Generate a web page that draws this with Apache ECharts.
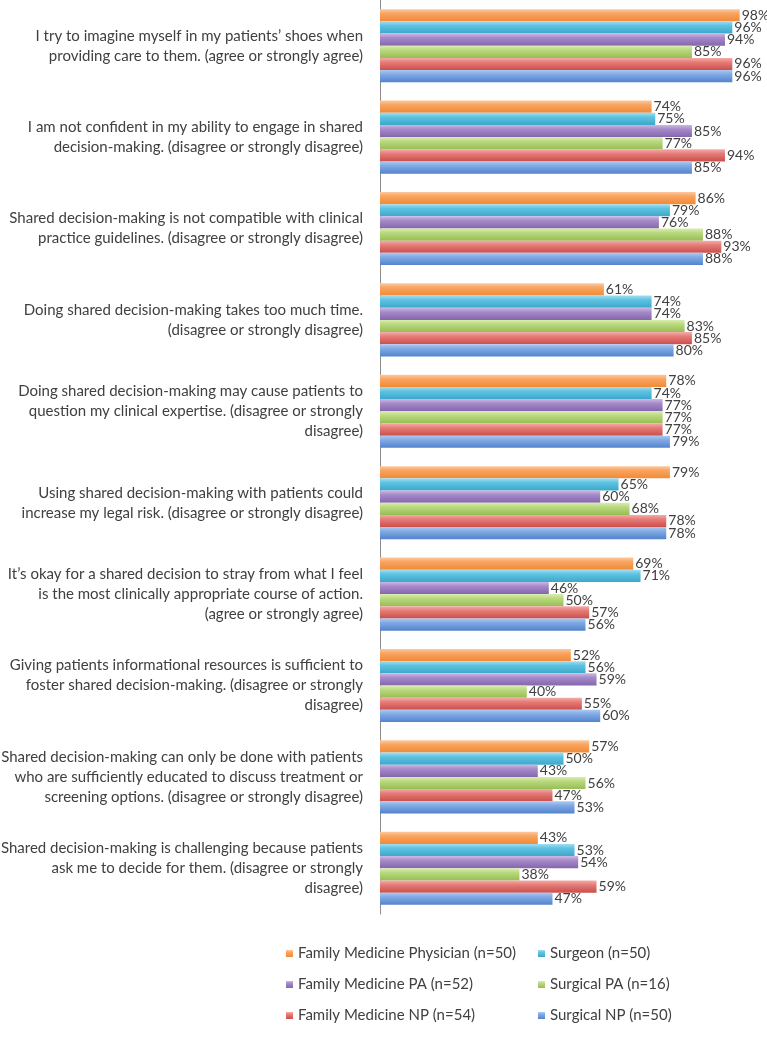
<!DOCTYPE html>
<html><head><meta charset="utf-8">
<script src="https://cdn.jsdelivr.net/npm/echarts@6/dist/echarts.min.js"></script>
<style>html,body{margin:0;padding:0;background:#fff}#c{width:767px;height:1037px}</style>
</head><body><div id="c"></div>
<script>
const categories = [
  "I try to imagine myself in my patients’ shoes when\nproviding care to them. (agree or strongly agree)",
  "I am not confident in my ability to engage in shared\ndecision-making. (disagree or strongly disagree)",
  "Shared decision-making is not compatible with clinical\npractice guidelines. (disagree or strongly disagree)",
  "Doing shared decision-making takes too much time.\n(disagree or strongly disagree)",
  "Doing shared decision-making may cause patients to\nquestion my clinical expertise. (disagree or strongly\ndisagree)",
  "Using shared decision-making with patients could\nincrease my legal risk. (disagree or strongly disagree)",
  "It’s okay for a shared decision to stray from what I feel\nis the most clinically appropriate course of action.\n(agree or strongly agree)",
  "Giving patients informational resources is sufficient to\nfoster shared decision-making. (disagree or strongly\ndisagree)",
  "Shared decision-making can only be done with patients\nwho are sufficiently educated to discuss treatment or\nscreening options. (disagree or strongly disagree)",
  "Shared decision-making is challenging because patients\nask me to decide for them. (disagree or strongly\ndisagree)"
];
const seriesNames = [
  "Family Medicine Physician (n=50)",
  "Surgeon (n=50)",
  "Family Medicine PA (n=52)",
  "Surgical PA (n=16)",
  "Family Medicine NP (n=54)",
  "Surgical NP (n=50)"
];
const fmPhysician = [98, 74, 86, 61, 78, 79, 69, 52, 57, 43];
const surgeon     = [96, 75, 79, 74, 74, 65, 71, 56, 50, 53];
const fmPA        = [94, 85, 76, 74, 77, 60, 46, 59, 43, 54];
const surgicalPA  = [85, 77, 88, 83, 77, 68, 50, 40, 56, 38];
const fmNP        = [96, 94, 93, 85, 77, 78, 57, 55, 47, 59];
const surgicalNP  = [96, 85, 88, 80, 79, 78, 56, 60, 53, 47];
const seriesData = [fmPhysician, surgeon, fmPA, surgicalPA, fmNP, surgicalNP];

const colorsLight = ['#FDC99F', '#A3DEF0', '#CBB9E2', '#DAECB2', '#F3AEAA', '#ADC9F1'];
const colorsMid   = ['#F9A461', '#5EC3E2', '#A68ACA', '#BAD97E', '#E67C78', '#80AAE5'];
const colorsDark  = ['#F08A36', '#3DA7CA', '#8466AC', '#97BD55', '#C94F4B', '#5383CB'];
const legendColors = ['#F79646', '#4BACC6', '#8064A2', '#9BBB59', '#C0504D', '#4F81BD'];

const chart = echarts.init(document.getElementById('c'), null, {renderer: 'canvas'});
const series = seriesNames.map((n, i) => ({
  name: n,
  type: 'bar',
  data: seriesData[i],
  barGap: '0%',
  barCategoryGap: '20%',
  itemStyle: {
    color: new echarts.graphic.LinearGradient(0, 0, 0, 1, [
      {offset: 0, color: colorsLight[i]},
      {offset: 0.35, color: colorsMid[i]},
      {offset: 1, color: colorsDark[i]}
    ])
  },
  label: {
    show: true, position: 'right', distance: 2,
    formatter: '{c}%', color: '#404040', fontSize: 14, fontFamily: 'Lato'
  }
}));

const legendCommon = {
  orient: 'vertical', icon: 'rect', itemWidth: 7, itemHeight: 7, itemGap: 16,
  textStyle: {color: '#404040', fontSize: 15, fontFamily: 'Lato'},
  selectedMode: false
};

chart.setOption({
  animation: false,
  backgroundColor: '#fff',
  grid: {left: 380, right: 20, top: 0, bottom: 123, containLabel: false, outerBoundsMode: 'none'},
  xAxis: {type: 'value', min: 0, max: 100, show: false},
  yAxis: {
    type: 'category', data: categories, inverse: true,
    axisLine: {show: true, lineStyle: {color: '#8c8c8c', width: 1}},
    axisTick: {show: false},
    axisLabel: {
      margin: 17, align: 'right', color: '#404040', fontSize: 15,
      fontFamily: 'Lato', lineHeight: 20, padding: [4, 0, 0, 0]
    }
  },
  legend: [
    Object.assign({left: 281, top: 941, data: [seriesNames[0], seriesNames[2], seriesNames[4]]}, legendCommon),
    Object.assign({left: 533, top: 941, data: [seriesNames[1], seriesNames[3], seriesNames[5]]}, legendCommon)
  ],
  color: legendColors,
  series: series
});
</script></body></html>
